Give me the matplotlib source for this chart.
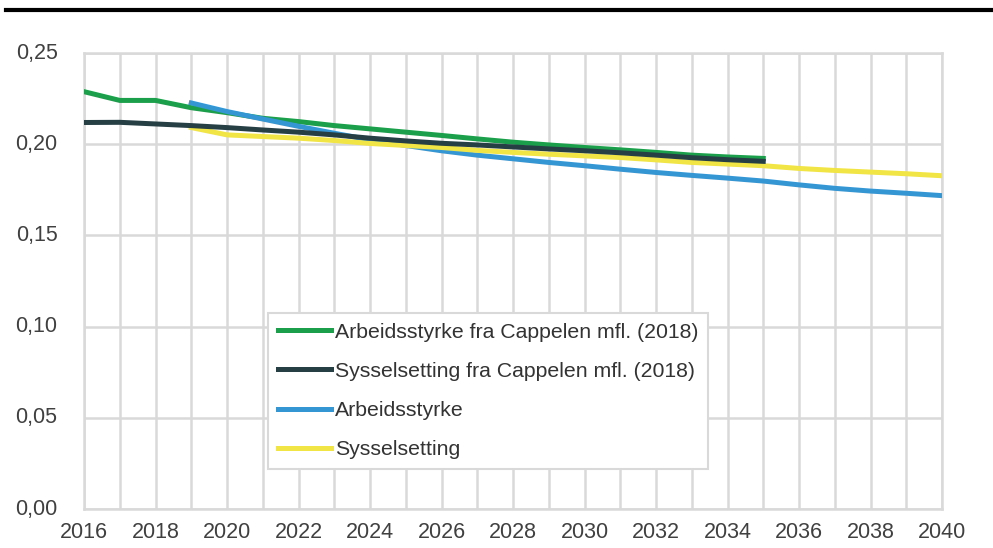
import matplotlib
matplotlib.use('Agg')
import matplotlib.pyplot as plt
from matplotlib.lines import Line2D

plt.rcParams['font.family'] = ['Liberation Sans', 'DejaVu Sans']

years_cap = list(range(2016, 2036))
years_new = list(range(2019, 2041))

arb_cappelen = [0.2288, 0.2240, 0.2240, 0.2200, 0.2173, 0.2142, 0.2124, 0.2102, 0.2084, 0.2066,
                0.2048, 0.2029, 0.2011, 0.1996, 0.1982, 0.1969, 0.1955, 0.1940, 0.1930, 0.1922]
sys_cappelen = [0.2119, 0.2120, 0.2111, 0.2102, 0.2091, 0.2078, 0.2066, 0.2051, 0.2033, 0.2018,
                0.2005, 0.1996, 0.1985, 0.1974, 0.1964, 0.1953, 0.1940, 0.1926, 0.1915, 0.1906]
arbeidsstyrke = [0.2226, 0.2179, 0.2138, 0.2098, 0.2060, 0.2024, 0.1993, 0.1964, 0.1940, 0.1920,
                 0.1900, 0.1882, 0.1863, 0.1845, 0.1829, 0.1814, 0.1798, 0.1777, 0.1758, 0.1743,
                 0.1731, 0.1718]
sysselsetting = [0.2091, 0.2051, 0.2042, 0.2033, 0.2020, 0.2004, 0.1993, 0.1982, 0.1966, 0.1955,
                 0.1945, 0.1936, 0.1927, 0.1914, 0.1900, 0.1891, 0.1882, 0.1867, 0.1856, 0.1847,
                 0.1838, 0.1827]

x_ticks = list(range(2016, 2041, 2))
y_ticks = [0.00, 0.05, 0.10, 0.15, 0.20, 0.25]
y_labels = ['0,00', '0,05', '0,10', '0,15', '0,20', '0,25']

grid_col = '#d9d9d9'
txt_col = '#404040'

fig = plt.figure(figsize=(9.93, 5.48), dpi=100)
ax = fig.add_axes([84 / 993, 1 - 509 / 548, (942 - 84) / 993, (509 - 53) / 548])

lw = 3.6
ax.plot(years_cap, arb_cappelen, color='#1b9f4a', lw=lw, label='Arbeidsstyrke fra Cappelen mfl. (2018)', zorder=3)
ax.plot(years_cap, sys_cappelen, color='#253f45', lw=lw, label='Sysselsetting fra Cappelen mfl. (2018)', zorder=4)
ax.plot(years_new, arbeidsstyrke, color='#3596d4', lw=lw, label='Arbeidsstyrke', zorder=3)
ax.plot(years_new, sysselsetting, color='#f1e545', lw=lw, label='Sysselsetting', zorder=3)

ax.set_xlim(2016, 2040)
ax.set_ylim(0, 0.25)
ax.set_xticks(range(2016, 2041), minor=True)
ax.set_xticks(x_ticks)
ax.set_yticks(y_ticks)
ax.set_yticklabels(y_labels)
ax.grid(True, which='both', axis='x', color=grid_col, lw=1.8, zorder=0)
ax.grid(True, which='major', axis='y', color=grid_col, lw=1.8, zorder=0)
ax.set_axisbelow(True)
for s in ax.spines.values():
    s.set_color(grid_col)
    s.set_linewidth(1.8)
ax.tick_params(which='both', length=0)
ax.tick_params(axis='x', pad=9, labelsize=15.5, colors=txt_col)
ax.tick_params(axis='y', pad=19, labelsize=15.5, colors=txt_col)
for lab in ax.get_yticklabels():
    lab.set_verticalalignment('center')

leg = ax.legend(loc='upper left', bbox_to_anchor=(268 / 993, 1 - 313 / 548),
                bbox_transform=fig.transFigure, fontsize=15.3, frameon=True, fancybox=False,
                borderaxespad=0, borderpad=0.45, handlelength=2.5, handletextpad=0.2,
                labelspacing=0.95, framealpha=1)
leg.get_frame().set_edgecolor(grid_col)
leg.get_frame().set_linewidth(1.5)
for t in leg.get_texts():
    t.set_color('#333333')

fig.add_artist(Line2D([6 / 993, 1.0], [1 - 10 / 548] * 2, color='black', lw=3))

fig.savefig('out.png', dpi=100)
